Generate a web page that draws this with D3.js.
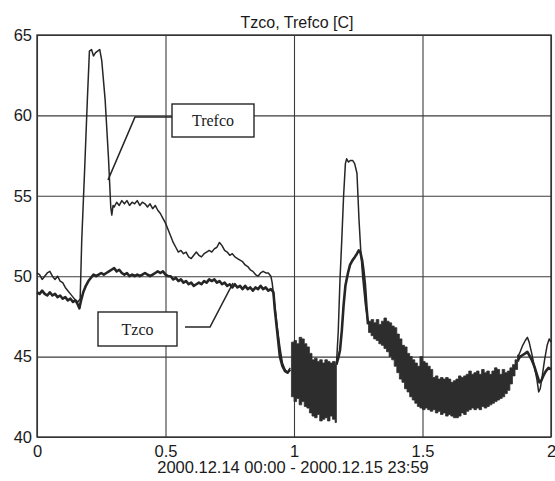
<!DOCTYPE html>
<html lang="en">
<head>
<meta charset="utf-8">
<title>Tzco, Trefco [C]</title>
<script src="https://cdn.jsdelivr.net/npm/d3@7"></script>
<style>
  body { margin: 0; background: #ffffff; }
  svg { display: block; font-family: "Liberation Sans", Arial, sans-serif; }
  .grid line { stroke: #3c3c3c; stroke-width: 1.1; }
  .grid path { display: none; }
  .grid text { fill: #1a1a1a; font-size: 16.5px; }
  .legend text { font-family: "Liberation Serif", "Times New Roman", serif; font-size: 16px; fill: #1a1a1a; }
</style>
</head>
<body>
<svg id="chart"></svg>
<script>
// axis ticks
var xTicks = [0, 0.5, 1, 1.5, 2];
var xTickLabels = ["0", "0.5", "1", "1.5", "2"];
var yTicks = [40, 45, 50, 55, 60, 65];
var seriesNames = ["Trefco", "Tzco"];

// Trefco (thin line), [x, value]; null = hidden behind the dense band
var trefco = [
  [0, 50.2], [0.01, 50.1], [0.02, 49.8], [0.03, 50.0], [0.04, 50.2], [0.05, 50.3], [0.06, 50.0],
  [0.07, 49.8], [0.08, 50.0], [0.09, 49.7], [0.10, 49.6], [0.11, 49.3], [0.12, 49.1], [0.13, 48.9],
  [0.14, 48.7], [0.15, 48.5], [0.16, 48.4], [0.168, 48.6], [0.174, 52.2], [0.185, 56.5], [0.196, 61.0],
  [0.204, 64.0], [0.212, 64.1], [0.22, 63.7], [0.228, 63.9], [0.236, 64.0], [0.244, 64.1], [0.252, 63.4],
  [0.265, 61.0], [0.278, 57.4], [0.287, 54.3], [0.291, 53.8], [0.296, 54.4], [0.30, 54.3], [0.31, 54.6],
  [0.32, 54.4], [0.33, 54.7], [0.34, 54.5], [0.35, 54.7], [0.36, 54.4], [0.37, 54.6], [0.38, 54.5],
  [0.39, 54.7], [0.40, 54.4], [0.41, 54.6], [0.42, 54.5], [0.43, 54.3], [0.44, 54.5], [0.45, 54.2],
  [0.46, 54.4], [0.47, 54.1], [0.48, 53.9], [0.49, 53.6], [0.50, 53.3], [0.51, 52.9], [0.52, 52.5],
  [0.53, 52.1], [0.54, 51.8], [0.55, 51.5], [0.56, 51.6], [0.57, 51.4], [0.58, 51.5], [0.59, 51.2],
  [0.60, 51.1], [0.61, 51.3], [0.62, 51.5], [0.63, 51.3], [0.64, 51.2], [0.65, 51.4], [0.66, 51.5],
  [0.67, 51.6], [0.68, 51.5], [0.69, 51.7], [0.70, 51.8], [0.71, 52.1], [0.72, 51.9], [0.73, 51.6],
  [0.74, 51.5], [0.75, 51.3], [0.76, 51.4], [0.77, 51.2], [0.78, 51.1], [0.79, 51.0], [0.80, 50.9],
  [0.81, 50.7], [0.82, 50.6], [0.83, 50.4], [0.84, 50.3], [0.85, 50.1], [0.86, 50.0], [0.87, 50.2],
  [0.88, 50.3], [0.89, 50.2], [0.90, 50.2], [0.91, 50.0], [0.915, 49.6], [0.925, 48.2], [0.935, 46.8],
  [0.945, 45.6], [0.955, 44.6], [0.965, 44.2], [0.975, 44.0], [0.985, 44.3], [1.0, null],
  [1.165, 44.5], [1.172, 46.5], [1.179, 49.8], [1.186, 52.3], [1.193, 55.0], [1.2, 57.0], [1.205, 57.3],
  [1.212, 57.1], [1.22, 57.2], [1.228, 57.2], [1.236, 57.0], [1.245, 56.4], [1.253, 53.5], [1.26, 51.5],
  [1.268, 49.8], [1.278, 48.2], [1.288, 47.2], [1.3, null],
  [1.872, 45.0], [1.88, 45.3], [1.89, 45.7], [1.9, 46.0], [1.908, 46.2], [1.915, 45.9], [1.925, 45.2],
  [1.935, 44.4], [1.945, 43.6], [1.952, 42.8], [1.958, 43.0], [1.966, 43.8], [1.975, 44.8], [1.985, 45.7],
  [1.993, 46.1], [2.0, 45.9]
];

// Tzco (thick line)
var tzco = [
  [0, 49.0], [0.01, 48.9], [0.02, 49.1], [0.03, 48.9], [0.04, 48.8], [0.05, 49.0], [0.06, 48.8],
  [0.07, 48.9], [0.08, 48.7], [0.09, 48.8], [0.10, 48.6], [0.11, 48.7], [0.12, 48.5], [0.13, 48.6],
  [0.14, 48.4], [0.15, 48.5], [0.16, 48.2], [0.165, 48.0], [0.17, 48.4], [0.18, 49.0], [0.19, 49.4],
  [0.20, 49.7], [0.21, 49.9], [0.22, 50.1], [0.23, 50.0], [0.24, 50.1], [0.25, 50.2], [0.26, 50.1],
  [0.27, 50.2], [0.28, 50.3], [0.29, 50.4], [0.30, 50.5], [0.31, 50.3], [0.32, 50.4], [0.33, 50.2],
  [0.34, 50.1], [0.35, 50.2], [0.36, 50.0], [0.37, 50.1], [0.38, 50.0], [0.39, 50.1], [0.40, 50.0],
  [0.41, 50.1], [0.42, 50.2], [0.43, 50.1], [0.44, 50.0], [0.45, 50.1], [0.46, 50.2], [0.47, 50.3],
  [0.48, 50.2], [0.49, 50.3], [0.50, 50.1], [0.51, 50.0], [0.52, 50.0], [0.53, 49.8], [0.54, 49.9],
  [0.55, 49.7], [0.56, 49.8], [0.57, 49.6], [0.58, 49.7], [0.59, 49.5], [0.60, 49.6], [0.61, 49.4],
  [0.62, 49.5], [0.63, 49.6], [0.64, 49.5], [0.65, 49.7], [0.66, 49.6], [0.67, 49.8], [0.68, 49.7],
  [0.69, 49.8], [0.70, 49.6], [0.71, 49.7], [0.72, 49.5], [0.73, 49.6], [0.74, 49.4], [0.75, 49.5],
  [0.76, 49.3], [0.77, 49.5], [0.78, 49.3], [0.79, 49.4], [0.80, 49.2], [0.81, 49.4], [0.82, 49.2],
  [0.83, 49.3], [0.84, 49.1], [0.85, 49.3], [0.86, 49.2], [0.87, 49.4], [0.88, 49.2], [0.89, 49.3],
  [0.90, 49.1], [0.91, 49.2], [0.92, 49.0], [0.925, 48.0], [0.935, 46.5], [0.945, 45.0], [0.955, 44.4],
  [0.965, 44.1], [0.975, 44.0], [0.985, 44.2], [1.0, null],
  [1.165, 44.5], [1.172, 44.9], [1.179, 45.4], [1.186, 46.6], [1.193, 48.2], [1.2, 49.4], [1.21, 50.2],
  [1.218, 50.7], [1.228, 51.0], [1.237, 51.2], [1.245, 51.4], [1.252, 51.6], [1.258, 51.5], [1.265, 51.0],
  [1.27, 50.4], [1.276, 49.5], [1.282, 48.1], [1.288, 47.0], [1.3, null],
  [1.872, 44.8], [1.88, 45.0], [1.89, 45.1], [1.9, 45.2], [1.908, 45.3], [1.915, 45.1], [1.925, 44.8],
  [1.935, 44.4], [1.945, 43.9], [1.955, 43.4], [1.962, 43.5], [1.97, 43.8], [1.98, 44.1], [1.99, 44.3],
  [2.0, 44.2]
];

// dense oscillation of both signals: min / max envelope
var band1X  = [0.99, 1.00, 1.01, 1.02, 1.03, 1.04, 1.05, 1.06, 1.07, 1.08, 1.09, 1.10, 1.11, 1.12, 1.13, 1.14, 1.15, 1.16, 1.165];
var band1Hi = [45.9, 46.0, 45.8, 46.2, 46.1, 45.8, 45.6, 45.2, 44.8, 44.9, 44.7, 44.8, 44.6, 44.8, 44.7, 44.6, 44.7, 44.5, 44.5];
var band1Lo = [42.5, 42.2, 42.4, 42.0, 42.2, 41.9, 41.8, 41.5, 41.3, 41.2, 41.4, 41.0, 41.1, 41.2, 41.0, 41.3, 41.1, 40.9, 40.9];

var band2X  = [1.29, 1.30, 1.31, 1.32, 1.33, 1.34, 1.35, 1.36, 1.37, 1.38, 1.39, 1.40, 1.41, 1.42, 1.43,
               1.44, 1.45, 1.46, 1.47, 1.48, 1.49, 1.50, 1.51, 1.52, 1.53, 1.54, 1.55, 1.56, 1.57, 1.58,
               1.59, 1.60, 1.61, 1.62, 1.63, 1.64, 1.65, 1.66, 1.67, 1.68, 1.69, 1.70, 1.71, 1.72, 1.73,
               1.74, 1.75, 1.76, 1.77, 1.78, 1.79, 1.80, 1.81, 1.82, 1.83, 1.84, 1.85, 1.86, 1.87, 1.875];
var band2Hi = [47.2, 47.3, 47.1, 47.3, 47.0, 47.2, 47.4, 47.2, 47.1, 46.9, 46.8, 46.4, 46.1, 45.7, 45.6,
               45.2, 45.0, 44.8, 44.6, 44.4, 45.0, 44.7, 44.6, 44.4, 44.2, 43.7, 43.8, 43.6, 43.7, 43.6,
               43.7, 43.6, 43.4, 43.5, 43.6, 43.8, 43.7, 43.8, 43.9, 44.1, 43.9, 44.0, 44.1, 43.9, 44.2,
               44.0, 44.1, 43.9, 44.1, 44.3, 44.2, 43.9, 44.2, 44.0, 44.1, 44.3, 44.5, 44.8, 45.1, 45.1];
var band2Lo = [46.5, 46.3, 46.1, 46.0, 45.8, 45.7, 45.5, 45.3, 45.0, 44.8, 44.4, 44.0, 43.6, 43.4, 43.0,
               42.8, 42.5, 42.3, 42.1, 41.9, 41.8, 41.7, 41.8, 41.7, 41.6, 41.7, 41.5, 41.6, 41.4, 41.5,
               41.3, 41.4, 41.3, 41.2, 41.2, 41.3, 41.5, 41.4, 41.6, 41.7, 41.8, 41.7, 41.8, 41.7, 41.9,
               41.8, 41.9, 42.0, 42.1, 42.2, 42.3, 42.4, 42.5, 42.7, 42.9, 43.3, 43.8, 44.2, 44.7, 44.7];

// layout
var svgWidth = 555, svgHeight = 481;
var margin = { top: 35, right: 4, bottom: 44, left: 37 };
var width = svgWidth - margin.left - margin.right;
var height = svgHeight - margin.top - margin.bottom;
var ink = "#262626";

var xScale = d3.scaleLinear().domain([0, 2]).range([0, width]);
var yScale = d3.scaleLinear().domain([40, 65]).range([height, 0]);

var root = d3.select("#chart")
    .attr("width", svgWidth)
    .attr("height", svgHeight);

root.append("rect")
    .attr("width", svgWidth).attr("height", svgHeight)
    .attr("fill", "#ffffff");

var svg = root.append("g")
    .attr("transform", "translate(" + margin.left + "," + margin.top + ")");

// grid + tick labels
svg.append("g")
    .attr("class", "grid")
    .attr("transform", "translate(0," + height + ")")
    .call(d3.axisBottom(xScale)
        .tickValues(xTicks)
        .tickFormat(function (d, i) { return xTickLabels[i]; })
        .tickSizeInner(-height).tickSizeOuter(0).tickPadding(8));

svg.append("g")
    .attr("class", "grid")
    .call(d3.axisLeft(yScale)
        .tickValues(yTicks)
        .tickFormat(d3.format("d"))
        .tickSizeInner(-width).tickSizeOuter(0).tickPadding(5));

svg.append("rect")
    .attr("width", width).attr("height", height)
    .attr("fill", "none").attr("stroke", "#333").attr("stroke-width", 1.4);

// dense bands
var band = d3.area()
    .curve(d3.curveStepAfter)
    .x(function (d) { return xScale(d[0]); })
    .y0(function (d) { return yScale(d[2]); })
    .y1(function (d) { return yScale(d[1]); });

[[band1X, band1Hi, band1Lo], [band2X, band2Hi, band2Lo]].forEach(function (b) {
  var rows = b[0].map(function (x, i) { return [x, b[1][i], b[2][i]]; });
  svg.append("path")
      .datum(rows)
      .attr("d", band)
      .attr("fill", "#2d2d2d")
      .attr("stroke", "#2d2d2d")
      .attr("stroke-width", 0.8)
      .attr("stroke-linejoin", "round");
});

// lines
var line = d3.line()
    .defined(function (d) { return d[1] !== null; })
    .x(function (d) { return xScale(d[0]); })
    .y(function (d) { return yScale(d[1]); });

svg.append("path")
    .datum(tzco)
    .attr("d", line)
    .attr("fill", "none").attr("stroke", ink)
    .attr("stroke-width", 2.6).attr("stroke-linejoin", "round");

svg.append("path")
    .datum(trefco)
    .attr("d", line)
    .attr("fill", "none").attr("stroke", ink)
    .attr("stroke-width", 1.5).attr("stroke-linejoin", "round");

// title and x label
root.append("text")
    .attr("x", 297).attr("y", 28)
    .attr("text-anchor", "middle")
    .style("font-size", "16px").attr("fill", "#1a1a1a")
    .text("Tzco, Trefco [C]");

root.append("text")
    .attr("x", 293).attr("y", 473)
    .attr("text-anchor", "middle")
    .style("font-size", "16.5px").attr("fill", "#1a1a1a")
    .text("2000.12.14 00:00 - 2000.12.15 23:59");

// callout labels
var legend = root.append("g").attr("class", "legend");

function callout(name, box, pts) {
  legend.append("polyline")
      .attr("points", pts.map(function (p) { return p.join(","); }).join(" "))
      .attr("fill", "none").attr("stroke", ink).attr("stroke-width", 1.6);
  legend.append("rect")
      .attr("x", box[0]).attr("y", box[1]).attr("width", box[2]).attr("height", box[3])
      .attr("fill", "#ffffff").attr("stroke", ink).attr("stroke-width", 1.4);
  legend.append("text")
      .attr("x", box[0] + box[2] / 2).attr("y", box[1] + box[3] / 2 + 5.5)
      .attr("text-anchor", "middle")
      .text(name);
}

callout(seriesNames[0], [172, 104, 82, 33], [[172, 117], [135, 117], [108, 180]]);
callout(seriesNames[1], [98, 312, 79, 34], [[185, 327], [210, 327], [233, 283]]);
</script>
</body>
</html>
